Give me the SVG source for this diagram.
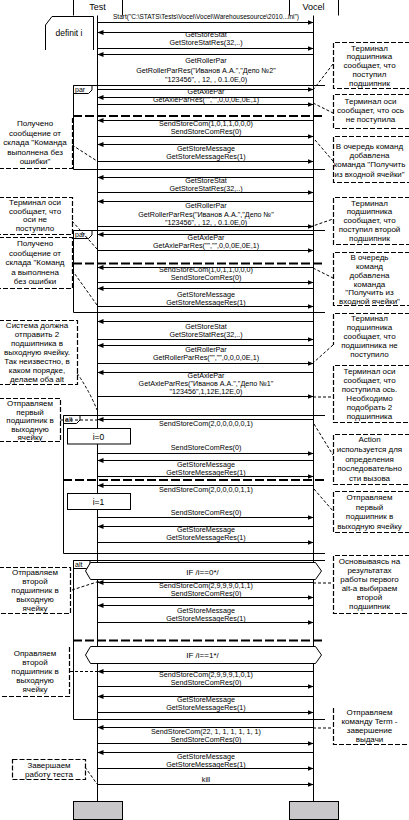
<svg xmlns="http://www.w3.org/2000/svg" width="409" height="820" viewBox="0 0 409 820">
<style>
text{font-family:"Liberation Sans",Arial,sans-serif;fill:#000}
.ll{stroke:#000;stroke-width:1;fill:none}
.msg{stroke:#000;stroke-width:1}
.lbl{font-size:7.2px;text-anchor:middle}
.note{fill:none;stroke:#000;stroke-width:1.2;stroke-dasharray:5,2}
.nt{font-size:8px;text-anchor:middle}
.conn{fill:none;stroke:#000;stroke-width:1;stroke-dasharray:3,2}
.sep{stroke:#000;stroke-width:2;stroke-dasharray:9,3}
.frame{fill:none;stroke:#000;stroke-width:1}
.flbl{font-size:7px}
.hdr{font-size:9px;text-anchor:middle}
.cond{fill:#fff;stroke:#000;stroke-width:1}
.box{fill:#fff;stroke:#000;stroke-width:1}
.foot{fill:#c9c7c9;stroke:#000;stroke-width:1}
</style>
<defs>
<marker id="ah" viewBox="0 0 6 5" refX="6" refY="2.5" markerWidth="6" markerHeight="5" markerUnits="userSpaceOnUse" orient="auto"><path d="M0,0 L6,2.5 L0,5 z" fill="#000"/></marker>
</defs>
<rect width="409" height="820" fill="#fff"/>

<g id="Test">
<path class="ll" d="M73.5,0 V15.5 M122.5,0 V15.5"/>
<text class="hdr" x="97.5" y="9.5">Test</text>
<line class="ll" x1="97.5" y1="15.5" x2="97.5" y2="801.5"/>
<rect class="foot" x="73.5" y="801.5" width="49" height="18"/>
</g>
<g id="Vocel">
<path class="ll" d="M289.5,0 V15.5 M338.5,0 V15.5"/>
<text class="hdr" x="313.5" y="9.5">Vocel</text>
<line class="ll" x1="313.5" y1="15.5" x2="313.5" y2="801.5"/>
<rect class="foot" x="289.5" y="801.5" width="49" height="18"/>
</g>

<g id="definit">
<path class="frame" d="M52,16.5 H93.5 V50 M45.5,50 V25 L52,16.5"/>
<text x="69" y="36" style="font-size:8.5px;text-anchor:middle">definit i</text>
</g>

<g id="frames">
<path class="frame" d="M325,85.5 H73.5 V169.5 H325"/>
<path class="frame" d="M73.5,85.5 H92 V90 L88.5,93.5 H73.5"/>
<text class="flbl" x="75" y="92">par</text>
<line class="sep" x1="73" y1="116" x2="325" y2="116"/>
<path class="frame" d="M325,230.5 H73.5 V312.5 H325"/>
<path class="frame" d="M73.5,230.5 H92 V235 L88.5,238.5 H73.5"/>
<text class="flbl" x="75" y="237">par</text>
<line class="sep" x1="73" y1="263.5" x2="325" y2="263.5"/>
<path class="frame" d="M325,415.5 H63.5 V553.5 H325"/>
<path class="frame" d="M63.5,415.5 H80 V420 L76.5,423.5 H63.5"/>
<text class="flbl" x="65" y="422">alt</text>
<line class="sep" x1="63" y1="480" x2="325" y2="480"/>
<path class="frame" d="M325,560.5 H73.5 V719.5 H325"/>
<path class="frame" d="M73.5,560.5 H90 V565 L86.5,568.5 H73.5"/>
<text class="flbl" x="75" y="567">alt</text>
<line class="sep" x1="73" y1="640.5" x2="325" y2="640.5"/>
</g>

<g id="connectors">
<line class="msg" x1="97.5" y1="22.5" x2="313.5" y2="22.5" marker-end="url(#ah)"/>
<line class="msg" x1="313.5" y1="32.5" x2="97.5" y2="32.5" marker-end="url(#ah)"/>
<line class="msg" x1="97.5" y1="48.5" x2="313.5" y2="48.5" marker-end="url(#ah)"/>
<line class="msg" x1="313.5" y1="54.5" x2="97.5" y2="54.5" marker-end="url(#ah)"/>
<line class="msg" x1="97.5" y1="89.5" x2="313.5" y2="89.5" marker-end="url(#ah)"/>
<line class="msg" x1="313.5" y1="97.5" x2="97.5" y2="97.5" marker-end="url(#ah)"/>
<line class="msg" x1="97.5" y1="104.5" x2="313.5" y2="104.5" marker-end="url(#ah)"/>
<line class="msg" x1="313.5" y1="120.5" x2="97.5" y2="120.5" marker-end="url(#ah)"/>
<line class="msg" x1="97.5" y1="136.5" x2="313.5" y2="136.5" marker-end="url(#ah)"/>
<line class="msg" x1="313.5" y1="144.5" x2="97.5" y2="144.5" marker-end="url(#ah)"/>
<line class="msg" x1="97.5" y1="161.5" x2="313.5" y2="161.5" marker-end="url(#ah)"/>
<line class="msg" x1="313.5" y1="177.5" x2="97.5" y2="177.5" marker-end="url(#ah)"/>
<line class="msg" x1="97.5" y1="192.5" x2="313.5" y2="192.5" marker-end="url(#ah)"/>
<line class="msg" x1="313.5" y1="201.5" x2="97.5" y2="201.5" marker-end="url(#ah)"/>
<line class="msg" x1="97.5" y1="226.5" x2="313.5" y2="226.5" marker-end="url(#ah)"/>
<line class="msg" x1="313.5" y1="234.5" x2="97.5" y2="234.5" marker-end="url(#ah)"/>
<line class="msg" x1="97.5" y1="250.5" x2="313.5" y2="250.5" marker-end="url(#ah)"/>
<line class="msg" x1="313.5" y1="267.5" x2="97.5" y2="267.5" marker-end="url(#ah)"/>
<line class="msg" x1="97.5" y1="282.5" x2="313.5" y2="282.5" marker-end="url(#ah)"/>
<line class="msg" x1="313.5" y1="288.5" x2="97.5" y2="288.5" marker-end="url(#ah)"/>
<line class="msg" x1="97.5" y1="306.5" x2="313.5" y2="306.5" marker-end="url(#ah)"/>
<line class="msg" x1="313.5" y1="321.5" x2="97.5" y2="321.5" marker-end="url(#ah)"/>
<line class="msg" x1="97.5" y1="339.5" x2="313.5" y2="339.5" marker-end="url(#ah)"/>
<line class="msg" x1="313.5" y1="345.5" x2="97.5" y2="345.5" marker-end="url(#ah)"/>
<line class="msg" x1="97.5" y1="363.5" x2="313.5" y2="363.5" marker-end="url(#ah)"/>
<line class="msg" x1="313.5" y1="372.5" x2="97.5" y2="372.5" marker-end="url(#ah)"/>
<line class="msg" x1="97.5" y1="396.5" x2="313.5" y2="396.5" marker-end="url(#ah)"/>
<line class="msg" x1="313.5" y1="419.5" x2="97.5" y2="419.5" marker-end="url(#ah)"/>
<line class="msg" x1="97.5" y1="453.5" x2="313.5" y2="453.5" marker-end="url(#ah)"/>
<line class="msg" x1="313.5" y1="460.5" x2="97.5" y2="460.5" marker-end="url(#ah)"/>
<line class="msg" x1="97.5" y1="476.5" x2="313.5" y2="476.5" marker-end="url(#ah)"/>
<line class="msg" x1="313.5" y1="485.5" x2="97.5" y2="485.5" marker-end="url(#ah)"/>
<line class="msg" x1="97.5" y1="517.5" x2="313.5" y2="517.5" marker-end="url(#ah)"/>
<line class="msg" x1="313.5" y1="526.5" x2="97.5" y2="526.5" marker-end="url(#ah)"/>
<line class="msg" x1="97.5" y1="542.5" x2="313.5" y2="542.5" marker-end="url(#ah)"/>
<line class="msg" x1="313.5" y1="582.5" x2="97.5" y2="582.5" marker-end="url(#ah)"/>
<line class="msg" x1="97.5" y1="597.5" x2="313.5" y2="597.5" marker-end="url(#ah)"/>
<line class="msg" x1="313.5" y1="605.5" x2="97.5" y2="605.5" marker-end="url(#ah)"/>
<line class="msg" x1="97.5" y1="622.5" x2="313.5" y2="622.5" marker-end="url(#ah)"/>
<line class="msg" x1="313.5" y1="671.5" x2="97.5" y2="671.5" marker-end="url(#ah)"/>
<line class="msg" x1="97.5" y1="686.5" x2="313.5" y2="686.5" marker-end="url(#ah)"/>
<line class="msg" x1="313.5" y1="696.5" x2="97.5" y2="696.5" marker-end="url(#ah)"/>
<line class="msg" x1="97.5" y1="712.5" x2="313.5" y2="712.5" marker-end="url(#ah)"/>
<line class="msg" x1="313.5" y1="727.5" x2="97.5" y2="727.5" marker-end="url(#ah)"/>
<line class="msg" x1="97.5" y1="743.5" x2="313.5" y2="743.5" marker-end="url(#ah)"/>
<line class="msg" x1="313.5" y1="752.5" x2="97.5" y2="752.5" marker-end="url(#ah)"/>
<line class="msg" x1="97.5" y1="768.5" x2="313.5" y2="768.5" marker-end="url(#ah)"/>
<line class="msg" x1="97.5" y1="784.5" x2="313.5" y2="784.5" marker-end="url(#ah)"/>
<path class="conn" d="M72,145 L97,161 M72,221 L97,249 M72,270 L97,305 M77,373 Q90,392 97,410 M60,420 H97 M72,590 L100,581 M70,671.5 H97 M85,767 L97,784"/>
<path class="conn" d="M333,64 L313,90 M313,103 L333,113 M315,140 L333,161 M310,227 L333,219 M313,268 L333,278 M333,345 L313,363 M313,397 H333 M314,424 L333,455 M314,489 L333,511 M313,583 H333 M313,728 H333"/>
</g>

<g id="labels" class="lbl">
<text x="206" y="18.5" textLength="186" lengthAdjust="spacingAndGlyphs">Start("C:\STATS\Tests\Vocel\Vocel\Warehousesource\2010...ini")</text>
<text x="206" y="37">GetStoreStat</text>
<text x="206" y="45">GetStoreStatRes(32,..)</text>
<text x="206" y="62.5">GetRollerPar</text>
<text x="206" y="73">GetRollerParRes("Иванов А.А.","Депо №2"</text>
<text x="206" y="81.5">"123456", , 12, , 0.1.0E,0)</text>
<text x="206" y="93.5">GetAxlePar</text>
<text x="206" y="101.5">GetAxleParRes("","",0,0,0E,0E,1)</text>
<text x="206" y="126">SendStoreCom(1,0,1,1,0,0,0)</text>
<text x="206" y="134">SendStoreComRes(0)</text>
<text x="206" y="150.5">GetStoreMessage</text>
<text x="206" y="158.5">GetStoreMessageRes(1)</text>
<text x="206" y="183">GetStoreStat</text>
<text x="206" y="191">GetStoreStatRes(32,..)</text>
<text x="206" y="208">GetRollerPar</text>
<text x="206" y="217">GetRollerParRes("Иванов А.А.","Депо №"</text>
<text x="206" y="225">"123456", , 12, , 0.1.0E,0)</text>
<text x="206" y="240">GetAxlePar</text>
<text x="206" y="248">GetAxleParRes("","",0,0,0E,0E,1)</text>
<text x="206" y="272">SendStoreCom(1,0,1,1,0,0,0)</text>
<text x="206" y="280">SendStoreComRes(0)</text>
<text x="206" y="296.5">GetStoreMessage</text>
<text x="206" y="304.5">GetStoreMessageRes(1)</text>
<text x="206" y="328.5">GetStoreStat</text>
<text x="206" y="336.5">GetStoreStatRes(32,..)</text>
<text x="206" y="351.5">GetRollerPar</text>
<text x="206" y="359.5">GetRollerParRes("","",0,0,0,0E,1)</text>
<text x="206" y="377.5">GetAxlePar</text>
<text x="206" y="385.5">GetAxleParRes("Иванов А.А.","Депо №1"</text>
<text x="206" y="393.5">"123456",1,12E,12E,0)</text>
<text x="206" y="425.5">SendStoreCom(2,0,0,0,0,0,1)</text>
<text x="206" y="450">SendStoreComRes(0)</text>
<text x="206" y="466.5">GetStoreMessage</text>
<text x="206" y="474.5">GetStoreMessageRes(1)</text>
<text x="206" y="491.5">SendStoreCom(2,0,0,0,0,1,1)</text>
<text x="206" y="514.5">SendStoreComRes(0)</text>
<text x="206" y="532">GetStoreMessage</text>
<text x="206" y="540">GetStoreMessageRes(1)</text>
<text x="206" y="588">SendStoreCom(2,9,9,9,0,1,1)</text>
<text x="206" y="596">SendStoreComRes(0)</text>
<text x="206" y="613">GetStoreMessage</text>
<text x="206" y="621">GetStoreMessageRes(1)</text>
<text x="206" y="676.5">SendStoreCom(2,9,9,9,1,0,1)</text>
<text x="206" y="684.5">SendStoreComRes(0)</text>
<text x="206" y="702">GetStoreMessage</text>
<text x="206" y="710">GetStoreMessageRes(1)</text>
<text x="206" y="733.5">SendStoreCom(22, 1, 1, 1, 1, 1, 1)</text>
<text x="206" y="741.5">SendStoreComRes(0)</text>
<text x="206" y="758.5">GetStoreMessage</text>
<text x="206" y="766.5">GetStoreMessageRes(1)</text>
<text x="206" y="782">kill</text>
</g>

<g id="i0"><rect class="box" x="67.5" y="428.5" width="63" height="15.5"/><text x="98.5" y="439.5" style="font-size:8.5px;text-anchor:middle">i=0</text></g>
<g id="i1"><rect class="box" x="67.5" y="493.5" width="63" height="16"/><text x="98.5" y="504.5" style="font-size:8.5px;text-anchor:middle">i=1</text></g>
<g id="cond0"><path class="cond" d="M85.5,571 L90.5,562.5 H315.5 L321.5,571 L315.5,579.5 H90.5 Z"/><text x="202.5" y="574.5" style="font-size:8px;text-anchor:middle">IF /i==0*/</text></g>
<g id="cond1"><path class="cond" d="M85.5,655 L90.5,646.5 H315.5 L321.5,655 L315.5,663.5 H90.5 Z"/><text x="202.5" y="658" style="font-size:8px;text-anchor:middle">IF /i==1*/</text></g>

<g id="noteA"><path class="note" d="M-1,168.5 H72.5 V118"/><text class="nt"><tspan x="35" y="126">Получено</tspan><tspan x="35" y="135.5">сообщение от</tspan><tspan x="35" y="145">склада "Команда</tspan><tspan x="35" y="154.5">выполнена без</tspan><tspan x="35" y="164">ошибки"</tspan></text></g>
<g id="noteB"><path class="note" d="M-1,197.5 H72.5 V234.5 H-1"/><text class="nt"><tspan x="35" y="205">Терминал оси</tspan><tspan x="35" y="213.5">сообщает, что</tspan><tspan x="35" y="222">оси не</tspan><tspan x="35" y="231">поступило</tspan></text></g>
<g id="noteC"><path class="note" d="M-1,237.5 H72.5 V288.5 H-1"/><text class="nt"><tspan x="35" y="246">Получено</tspan><tspan x="35" y="255.5">сообщение от</tspan><tspan x="35" y="265">склада "Команд</tspan><tspan x="35" y="274.5">а выполнена</tspan><tspan x="35" y="284">без ошибки</tspan></text></g>
<g id="noteD"><path class="note" d="M-1,320.5 H77.5 V384.5 H-1"/><text class="nt"><tspan x="37" y="328">Система должна</tspan><tspan x="37" y="337">отправить 2</tspan><tspan x="37" y="346">подшипника в</tspan><tspan x="37" y="355">выходную ячейку.</tspan><tspan x="37" y="364">Так неизвестно, в</tspan><tspan x="37" y="373">каком порядке,</tspan><tspan x="37" y="382">делаем оба alt</tspan></text></g>
<g id="noteE"><path class="note" d="M-1,398.5 H60.5 V441.5 H-1"/><text class="nt"><tspan x="30" y="406">Отправляем</tspan><tspan x="30" y="414.5">первый</tspan><tspan x="30" y="423">подшипник в</tspan><tspan x="30" y="431.5">выходную</tspan><tspan x="30" y="440">ячейку</tspan></text></g>
<g id="noteF"><path class="note" d="M-1,567.5 H70.5 V613.5 H-1"/><text class="nt"><tspan x="35" y="574.5">Отправляем</tspan><tspan x="35" y="583.5">второй</tspan><tspan x="35" y="592.5">подшипник в</tspan><tspan x="35" y="601.5">выходную</tspan><tspan x="35" y="610.5">ячейку</tspan></text></g>
<g id="noteG"><path class="note" d="M69.5,647 V696.5 H-1"/><text class="nt"><tspan x="35" y="655.5">Оправляем</tspan><tspan x="35" y="664.5">второй</tspan><tspan x="35" y="673.5">подшипник в</tspan><tspan x="35" y="682.5">выходную</tspan><tspan x="35" y="691.5">ячейку</tspan></text></g>
<g id="noteH"><rect class="note" x="12.5" y="759.5" width="73" height="20"/><text class="nt"><tspan x="49" y="768">Завершаем</tspan><tspan x="49" y="777">работу теста</tspan></text></g>

<g id="noteR1"><path class="note" d="M410,42.5 H333.5 V88.5 H410"/><text class="nt"><tspan x="369.5" y="50.5">Терминал</tspan><tspan x="369.5" y="59">подшипника</tspan><tspan x="369.5" y="67.5">сообщает, что</tspan><tspan x="369.5" y="76.5">поступил</tspan><tspan x="369.5" y="85.5">подшипник</tspan></text></g>
<g id="noteR2"><path class="note" d="M410,94.5 H333.5 V128.5 H410"/><text class="nt"><tspan x="370.5" y="104">Терминал оси</tspan><tspan x="370.5" y="113">сообщает, что ось</tspan><tspan x="370.5" y="122">не поступила</tspan></text></g>
<g id="noteR3"><path class="note" d="M410,136.5 H333.5 V182.5 H410"/><text class="nt"><tspan x="369.5" y="148.5">В очередь команд</tspan><tspan x="369.5" y="157.5">добавлена</tspan><tspan x="369.5" y="167">команда "Получить</tspan><tspan x="369.5" y="177" textLength="70" lengthAdjust="spacingAndGlyphs">из входной ячейки"</tspan></text></g>
<g id="noteR4"><path class="note" d="M410,197.5 H333.5 V244.5 H410"/><text class="nt"><tspan x="369.5" y="205.5">Терминал</tspan><tspan x="369.5" y="214">подшипника</tspan><tspan x="369.5" y="222.5">сообщает, что</tspan><tspan x="369.5" y="231.5">поступил второй</tspan><tspan x="369.5" y="240.5">подшипник</tspan></text></g>
<g id="noteR5"><path class="note" d="M410,252.5 H333.5 V305.5 H410"/><text class="nt"><tspan x="369.5" y="260">В очередь</tspan><tspan x="369.5" y="269">команд</tspan><tspan x="369.5" y="277.5">добавлена</tspan><tspan x="369.5" y="286.5">команда</tspan><tspan x="369.5" y="295">"Получить из</tspan><tspan x="369.5" y="304">входной ячейки"</tspan></text></g>
<g id="noteR6"><path class="note" d="M410,313.5 H333.5 V345"/><text class="nt"><tspan x="369.5" y="321">Терминал</tspan><tspan x="369.5" y="329.5">подшипника</tspan><tspan x="369.5" y="338.5">сообщает, что</tspan><tspan x="369.5" y="347.5">подшипника не</tspan><tspan x="369.5" y="357">поступило</tspan></text></g>
<g id="noteR7"><path class="note" d="M410,365.5 H333.5 V422.5 H410"/><text class="nt"><tspan x="369.5" y="373.5">Терминал оси</tspan><tspan x="369.5" y="382.5">сообщает, что</tspan><tspan x="369.5" y="391.5">поступила ось.</tspan><tspan x="369.5" y="400.5">Необходимо</tspan><tspan x="369.5" y="409.5">подобрать 2</tspan><tspan x="369.5" y="418.5">подшипника</tspan></text></g>
<g id="noteR8"><path class="note" d="M410,434.5 H333.5 V484.5 H410"/><text class="nt"><tspan x="369.5" y="442">Action</tspan><tspan x="369.5" y="452">используется для</tspan><tspan x="369.5" y="461.5">определения</tspan><tspan x="369.5" y="471">последовательно</tspan><tspan x="369.5" y="480.5">сти вызова</tspan></text></g>
<g id="noteR9"><path class="note" d="M410,491.5 H333.5 V532.5 H410"/><text class="nt"><tspan x="369.5" y="500">Отправляем</tspan><tspan x="369.5" y="509.5">первый</tspan><tspan x="369.5" y="519">подшипник в</tspan><tspan x="369.5" y="528.5">выходную ячейку</tspan></text></g>
<g id="noteR10"><path class="note" d="M410,555.5 H333.5 V613.5 H410"/><text class="nt"><tspan x="369.5" y="563.5">Основываясь на</tspan><tspan x="369.5" y="572.5">результатах</tspan><tspan x="369.5" y="581.5">работы первого</tspan><tspan x="369.5" y="590.5">alt-а выбираем</tspan><tspan x="369.5" y="599.5">второй</tspan><tspan x="369.5" y="608.5">подшипник</tspan></text></g>
<g id="noteR11"><path class="note" d="M333.5,708 V744.5 H410"/><text class="nt"><tspan x="369.5" y="715">Отправляем</tspan><tspan x="369.5" y="724">команду Term -</tspan><tspan x="369.5" y="733">завершение</tspan><tspan x="369.5" y="742">выдачи</tspan></text></g>
</svg>
